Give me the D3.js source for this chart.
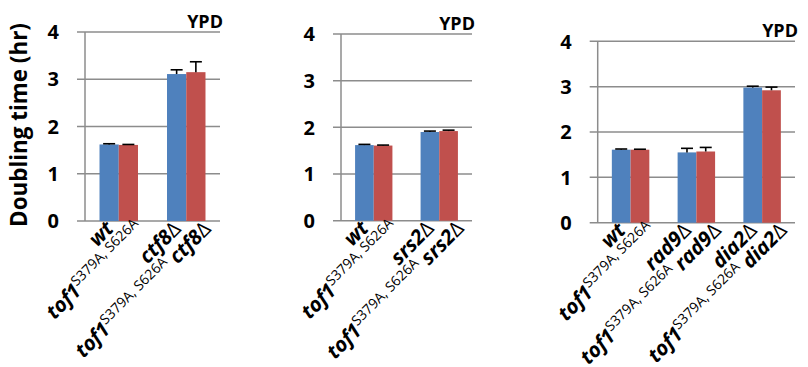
<!DOCTYPE html>
<html><head><meta charset="utf-8">
<script src="https://cdn.jsdelivr.net/npm/d3@7"></script>
<style>
html,body{margin:0;padding:0;background:#fff;}
svg text{font-family:"Open Sans", Lato, sans-serif;}
</style>
</head><body>
<svg id="c" width="808" height="367"></svg>
<script>
// ---- data ----
const yTicks = [0, 1, 2, 3, 4];
const conditionLabel = "YPD";
const yTitle = "Doubling time (hr)";
const mutantLabel = "tof1";
const mutantSup = "S379A, S626A";
const deltaSym = "Δ";

const p1Groups = ["wt", "ctf8"];
const p1Blue = [1.62, 3.11];
const p1Red = [1.61, 3.15];
const p1BlueErr = [0.015, 0.09];
const p1RedErr = [0.01, 0.22];

const p2Groups = ["wt", "srs2"];
const p2Blue = [1.62, 1.90];
const p2Red = [1.61, 1.92];
const p2BlueErr = [0.015, 0.02];
const p2RedErr = [0.01, 0.02];

const p3Groups = ["wt", "rad9", "dia2"];
const p3Blue = [1.61, 1.55, 2.98];
const p3Red = [1.61, 1.57, 2.92];
const p3BlueErr = [0.015, 0.09, 0.03];
const p3RedErr = [0.01, 0.09, 0.07];

const blueColor = "#4F81BD";
const redColor = "#C0504D";
const gridColor = "#8c8c8c";

const svg = d3.select("#c");

const panels = [
  {groups:p1Groups, blue:p1Blue, red:p1Red, be:p1BlueErr, re:p1RedErr, x0:85, x1:220, yTop:32, yBot:221, title:true},
  {groups:p2Groups, blue:p2Blue, red:p2Red, be:p2BlueErr, re:p2RedErr, x0:341, x1:472, yTop:34, yBot:220.7},
  {groups:p3Groups, blue:p3Blue, red:p3Red, be:p3BlueErr, re:p3RedErr, x0:597.7, x1:795, yTop:41.3, yBot:222.7}
];

panels.forEach(p => {
  const g = svg.append("g");
  const y = d3.scaleLinear().domain([0, 4]).range([p.yBot, p.yTop]);
  const x = d3.scaleBand().domain(p.groups).range([p.x0, p.x1]).padding(0);
  const bw = x.step() * 0.285;

  g.selectAll(".grid").data(yTicks).enter().append("line")
    .attr("x1", p.x0 - 8).attr("x2", p.x1)
    .attr("y1", d => y(d)).attr("y2", d => y(d))
    .attr("stroke", gridColor).attr("stroke-width", 1.5);
  g.append("line").attr("x1", p.x0).attr("x2", p.x0)
    .attr("y1", y(4)).attr("y2", y(0))
    .attr("stroke", gridColor).attr("stroke-width", 1.5);

  g.selectAll(".tl").data(yTicks).enter().append("text")
    .attr("x", p.x0 - 26).attr("y", d => y(d))
    .attr("dy", "0.36em").attr("text-anchor", "end")
    .attr("font-size", 20).attr("font-weight", "bold").attr("fill", "#000")
    .text(d => d);

  const series = [
    {vals:p.blue, err:p.be, color:blueColor, off:-1},
    {vals:p.red, err:p.re, color:redColor, off:0}
  ];
  series.forEach(s => {
    p.groups.forEach((gname, i) => {
      const cx = x(gname) + x.bandwidth() / 2;
      const bx = cx + s.off * bw;
      g.append("rect").attr("x", bx).attr("width", bw)
        .attr("y", y(s.vals[i])).attr("height", y(0) - y(s.vals[i]))
        .attr("fill", s.color);
      const mid = bx + bw / 2;
      const top = y(s.vals[i] + s.err[i]);
      g.append("line").attr("x1", mid).attr("x2", mid)
        .attr("y1", y(s.vals[i])).attr("y2", top)
        .attr("stroke", "#000").attr("stroke-width", 1.6);
      g.append("line").attr("x1", mid - 6).attr("x2", mid + 6)
        .attr("y1", top).attr("y2", top)
        .attr("stroke", "#000").attr("stroke-width", 1.6);
    });
  });

  g.append("text").attr("x", p.x1 + 3).attr("y", p.yTop - 4)
    .attr("text-anchor", "end").attr("font-size", 18).attr("font-weight", "bold")
    .text(conditionLabel);

  p.groups.forEach(gname => {
    const cx = x(gname) + x.bandwidth() / 2;
    const t1 = g.append("text")
      .attr("transform", `translate(${cx - 4},${p.yBot + 9}) rotate(-45)`)
      .attr("text-anchor", "end").attr("font-size", 20.5).attr("font-weight", "bold");
    t1.append("tspan").attr("font-style", "italic").text(gname);
    if (gname !== "wt") t1.append("tspan").attr("font-weight", "normal").text(deltaSym);
    const t2 = g.append("text")
      .attr("transform", `translate(${cx + 26},${p.yBot + 9}) rotate(-45)`)
      .attr("text-anchor", "end").attr("font-size", 20.5).attr("font-weight", "bold");
    t2.append("tspan").attr("font-style", "italic").text(mutantLabel);
    t2.append("tspan").attr("font-size", 14).attr("font-weight", "normal")
      .attr("dy", -8).text(mutantSup);
    if (gname !== "wt") {
      t2.append("tspan").attr("dy", 8).attr("font-style", "italic").text(" " + gname);
      t2.append("tspan").attr("font-weight", "normal").text(deltaSym);
    }
  });

  if (p.title) {
    const tt = g.append("text")
      .attr("transform", `translate(27,125) rotate(-90)`)
      .attr("text-anchor", "middle").attr("font-size", 20).attr("font-weight", "bold")
      .text(yTitle);
    const len = tt.node().getComputedTextLength();
    tt.attr("font-size", 20 * 204 / len);
  }
});
</script>
</body></html>
